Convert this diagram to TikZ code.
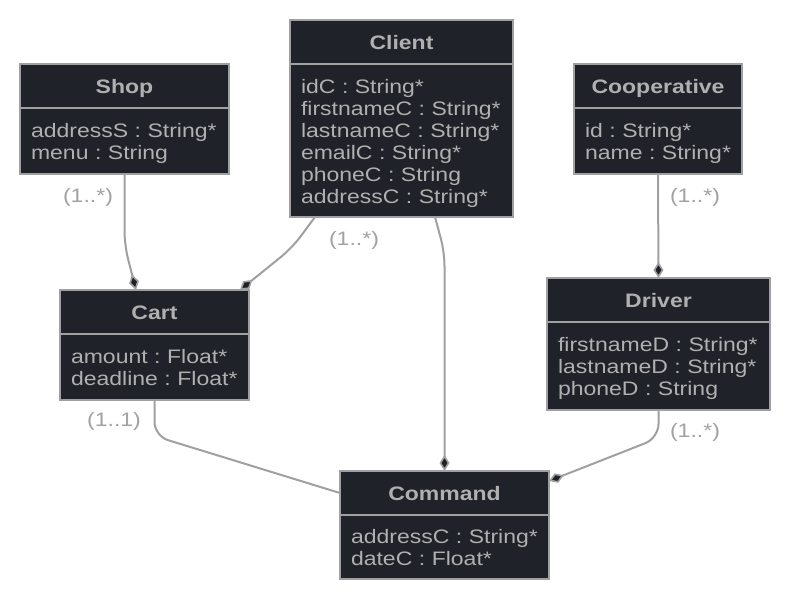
\documentclass[tikz,border=0pt]{standalone}
\usepackage{fontspec}
\setmainfont{Liberation Sans}[FakeStretch=1.18]
\usetikzlibrary{arrows.meta}
\definecolor{boxfill}{HTML}{1F2229}
\definecolor{edge}{HTML}{A0A0A0}
\definecolor{txt}{HTML}{B0B0B0}
\definecolor{lbl}{HTML}{A2A2A2}
\frenchspacing
\tikzset{
  head/.style={draw=edge, line width=2.2pt, fill=boxfill, text=txt, outer sep=0pt,
    font=\fontsize{19.5}{22}\selectfont\bfseries, anchor=north west, inner sep=0pt,
    text height=14pt, text depth=0pt},
  body/.style={draw=edge, line width=2.2pt, fill=boxfill, text=txt, outer sep=0pt,
    font=\fontsize{19.5}{22}\selectfont, anchor=north west, inner xsep=11pt, inner ysep=0pt, align=left},
  conn/.style={draw=edge, line width=2pt, rounded corners=14pt},
  comp/.style={-{Diamond[length=16pt,width=10pt,fill=boxfill,line width=1.6pt]}},
  mult/.style={text=lbl, font=\fontsize{19.5}{22}\selectfont, inner sep=0pt}
}
\newcommand\attrs[1]{\raisebox{-3.5pt}[\height][\depth]{\begin{tabular}{@{}l@{}}#1\end{tabular}}}
\begin{document}
\begin{tikzpicture}[x=1pt,y=-1pt]
\useasboundingbox[fill=white] (0,0) rectangle (790,600);

% Shop
\node[head, minimum width=209pt, minimum height=44pt] (shop) at (20,64) {Shop};
\node[body, text width=187pt, minimum height=66pt] (shopb) at (shop.south west)
  {\attrs{addressS : String*\\ menu : String}};

% Client
\node[head, minimum width=223pt, minimum height=44pt] (client) at (290,20) {Client};
\node[body, text width=201pt, minimum height=153pt] (clientb) at (client.south west)
  {\attrs{idC : String*\\ firstnameC : String*\\ lastnameC : String*\\ emailC : String*\\ phoneC : String\\ addressC : String*}};

% Cooperative
\node[head, minimum width=168pt, minimum height=44pt] (coop) at (574,64) {Cooperative};
\node[body, text width=146pt, minimum height=66pt] (coopb) at (coop.south west)
  {\attrs{id : String*\\ name : String*}};

% Cart
\node[head, minimum width=189pt, minimum height=44pt] (cart) at (60,290) {Cart};
\node[body, text width=167pt, minimum height=66pt] (cartb) at (cart.south west)
  {\attrs{amount : Float*\\ deadline : Float*}};

% Driver
\node[head, minimum width=223pt, minimum height=44pt] (driver) at (547,278) {Driver};
\node[body, text width=201pt, minimum height=88pt] (driverb) at (driver.south west)
  {\attrs{firstnameD : String*\\ lastnameD : String*\\ phoneD : String}};

% Command
\node[head, minimum width=209pt, minimum height=44pt] (command) at (340,471) {Command};
\node[body, text width=187pt, minimum height=64pt] (commandb) at (command.south west)
  {\attrs{addressC : String*\\ dateC : Float*}};

% connectors
\draw[conn,comp] (shopb.south) -- (124.5,245) -- ([xshift=76pt]cart.north west);
\draw[conn,comp] ([xshift=25pt]clientb.south west) -- (292,248) -- ([xshift=-9pt]cart.north east);
\draw[conn,comp] ([xshift=145pt]clientb.south west) -- (444.5,252) -- (command.north);
\draw[conn,comp] (coopb.south) -- (driver.north);
\draw[conn,comp] (driverb.south) -- (658.5,438) -- ([yshift=-10pt]command.north east);
\draw[conn] (cartb.south) -- (154.5,436) -- (command.west);

% multiplicities
\node[mult] (m1) at (88,197) {(1..*)};
\node[mult] (m2) at (354,240) {(1..*)};
\node[mult] (m3) at (695,197) {(1..*)};
\node[mult] (m4) at (695,432) {(1..*)};
\node[mult] (m5) at (114,421) {(1..1)};
\end{tikzpicture}
\end{document}
